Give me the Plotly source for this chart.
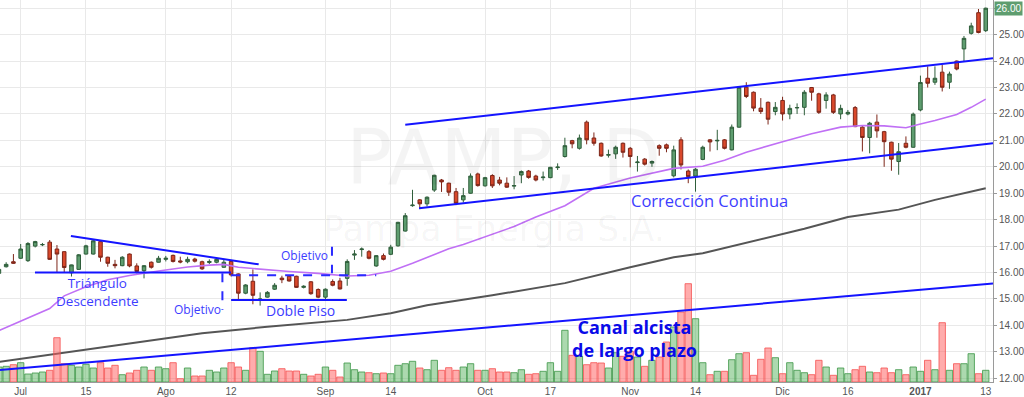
import pandas as pd
import plotly.graph_objects as go

# ---------------- data ----------------
holidays = ["2016-07-08", "2016-08-15", "2016-10-10", "2016-11-28",
            "2016-12-08", "2016-12-09", "2016-12-30"]
dates = [d.strftime("%Y-%m-%d") for d in
         pd.bdate_range("2016-06-28", "2017-01-13", freq="C", holidays=holidays)]

open_ = [15.97, 16.22, 16.41, 16.54, 16.45, 17.00, 17.05, 17.15, 16.89, 16.79,
         15.99, 16.12, 16.70, 16.70, 17.17, 16.58, 16.31, 16.26, 16.70, 16.25,
         16.07, 16.39, 16.39, 16.50, 16.65, 16.44, 16.41, 16.51, 16.41, 16.38,
         16.39, 16.20, 16.42, 15.95, 15.22, 15.67, 14.97, 15.07, 15.37, 15.79,
         15.86, 15.86, 15.44, 15.65, 15.36, 15.07, 15.66, 15.68, 15.78, 16.66,
         16.87, 16.79, 16.25, 16.64, 16.69, 17.01, 17.57, 18.53, 18.75, 18.60,
         19.12, 19.50, 19.38, 19.06, 18.75, 19.00, 19.73, 19.28, 19.67, 19.50,
         19.38, 19.27, 19.69, 19.84, 19.65, 19.59, 19.59, 19.97, 20.39, 20.99,
         20.70, 21.69, 21.09, 20.89, 20.44, 20.49, 20.89, 20.70, 20.16, 20.29,
         20.14, 20.80, 20.83, 19.66, 21.02, 19.84, 19.65, 20.28, 21.02, 20.98,
         21.02, 20.64, 21.50, 23.01, 22.82, 22.22, 22.44, 22.09, 22.51, 22.00,
         22.23, 22.25, 23.00, 22.76, 22.51, 22.72, 22.00, 22.00, 22.24, 21.50,
         21.11, 21.69, 21.33, 20.93, 20.20, 20.89, 20.74, 22.15, 23.35, 23.20,
         23.58, 23.20, 24.00, 24.46, 25.05, 25.83, 25.15]
high = [16.15, 16.39, 16.70, 17.08, 17.15, 17.20, 17.12, 17.23, 17.04, 16.80,
        16.30, 16.70, 17.05, 17.24, 17.19, 16.60, 16.48, 16.62, 16.72, 16.35,
        16.28, 16.42, 16.63, 16.63, 16.68, 16.60, 16.60, 16.56, 16.45, 16.50,
        16.56, 16.50, 16.46, 15.97, 15.56, 16.12, 15.25, 15.30, 15.60, 15.88,
        15.90, 15.88, 15.52, 15.68, 15.40, 15.40, 15.74, 15.80, 16.50, 16.85,
        16.95, 16.85, 16.66, 16.72, 17.05, 17.92, 18.25, 19.13, 18.78, 18.88,
        19.70, 19.54, 19.40, 19.20, 19.20, 19.75, 19.78, 19.62, 19.72, 19.62,
        19.60, 19.65, 19.86, 19.88, 19.70, 19.82, 20.00, 20.13, 21.10, 21.02,
        21.22, 21.75, 21.30, 20.92, 20.65, 20.80, 20.92, 20.75, 20.41, 20.33,
        20.24, 20.85, 20.88, 20.80, 21.12, 19.90, 19.95, 20.80, 21.05, 21.40,
        21.05, 21.60, 23.03, 23.20, 22.85, 22.60, 22.47, 22.45, 22.65, 22.35,
        22.40, 22.90, 23.02, 22.80, 22.82, 22.76, 22.35, 22.15, 22.30, 21.55,
        21.70, 21.98, 21.36, 20.95, 20.90, 21.15, 22.05, 23.45, 23.80, 23.80,
        23.85, 23.60, 24.02, 24.95, 25.45, 25.97, 26.02]
low = [15.93, 16.19, 16.33, 16.52, 16.40, 16.95, 17.00, 16.48, 16.00, 16.00,
       15.85, 16.10, 16.68, 16.68, 16.41, 16.22, 16.16, 16.24, 16.20, 15.97,
       15.78, 16.15, 16.38, 16.42, 16.38, 16.35, 16.35, 16.38, 16.10, 16.32,
       16.35, 16.18, 15.85, 15.00, 15.18, 14.80, 14.75, 15.05, 15.34, 15.60,
       15.66, 15.42, 15.40, 15.16, 15.03, 14.97, 15.48, 15.36, 15.50, 16.48,
       16.60, 16.50, 16.22, 16.46, 16.66, 16.98, 17.55, 18.49, 18.40, 18.50,
       19.05, 19.05, 18.90, 18.55, 18.65, 18.98, 19.25, 19.25, 19.20, 19.30,
       19.20, 19.15, 19.38, 19.55, 19.45, 19.48, 19.57, 19.88, 20.35, 20.70,
       20.65, 20.85, 20.80, 20.38, 20.35, 20.30, 20.35, 19.98, 19.82, 20.05,
       20.00, 20.42, 20.55, 19.60, 19.90, 19.38, 19.06, 20.25, 20.58, 20.63,
       20.66, 20.62, 21.48, 22.60, 22.10, 22.00, 21.60, 21.95, 21.75, 21.80,
       22.00, 21.95, 22.50, 22.00, 22.20, 22.00, 21.80, 21.95, 21.50, 20.58,
       20.51, 21.10, 20.00, 19.85, 19.70, 20.70, 20.72, 22.10, 23.00, 23.10,
       22.85, 22.95, 23.65, 24.00, 25.00, 25.05, 25.10]
close = [16.12, 16.31, 16.35, 16.89, 17.10, 17.17, 17.06, 16.50, 16.70, 16.19,
         16.29, 16.67, 17.01, 17.20, 16.58, 16.35, 16.26, 16.58, 16.25, 16.04,
         16.26, 16.20, 16.54, 16.54, 16.42, 16.40, 16.50, 16.43, 16.14, 16.42,
         16.50, 16.39, 15.91, 15.22, 15.53, 15.14, 15.00, 15.25, 15.52, 15.73,
         15.68, 15.44, 15.48, 15.20, 15.07, 15.37, 15.52, 15.38, 16.42, 16.70,
         16.89, 16.54, 16.64, 16.50, 16.96, 17.90, 18.15, 18.55, 18.60, 18.85,
         19.68, 19.43, 19.04, 18.62, 18.91, 19.65, 19.29, 19.59, 19.28, 19.38,
         19.23, 19.29, 19.82, 19.60, 19.50, 19.61, 19.98, 19.99, 20.80, 20.87,
         21.09, 21.02, 20.89, 20.41, 20.46, 20.74, 20.55, 20.39, 20.18, 20.10,
         20.20, 20.70, 20.70, 20.64, 20.07, 19.63, 19.91, 20.74, 20.94, 21.00,
         20.70, 21.50, 23.01, 22.66, 22.22, 22.09, 21.80, 22.25, 22.00, 22.21,
         22.24, 22.82, 22.82, 22.06, 22.72, 22.06, 22.21, 22.06, 21.52, 21.11,
         21.65, 21.36, 20.95, 20.29, 20.57, 20.74, 21.99, 23.19, 23.16, 23.35,
         23.01, 23.51, 23.70, 24.86, 25.33, 25.08, 26.00]
# volume, thousands of shares
volume = [300, 314, 346, 386, 160, 180, 200, 234, 886, 366,
          334, 300, 354, 280, 386, 280, 334, 146, 180, 234,
          300, 234, 300, 266, 386, 66, 280, 120, 120, 234,
          200, 280, 386, 300, 234, 686, 614, 154, 220, 266,
          220, 220, 154, 120, 154, 300, 234, 100, 380, 246,
          200, 186, 166, 180, 166, 334, 366, 414, 280, 246,
          434, 234, 286, 234, 300, 366, 234, 234, 266, 200,
          200, 186, 246, 154, 166, 214, 386, 214, 1034, 534,
          514, 346, 386, 380, 280, 586, 514, 614, 500, 314,
          434, 500, 800, 1100, 1400, 1966, 1266, 386, 146, 214,
          214, 446, 566, 586, 134, 454, 680, 486, 166, 386,
          234, 186, 146, 434, 300, 134, 280, 166, 246, 314,
          200, 186, 280, 186, 246, 146, 300, 214, 434, 246,
          1186, 234, 366, 366, 566, 166, 234]

# moving averages (sampled at bar positions)
ma_fast_pos = [0, 7, 9, 12, 15, 18, 22, 26, 29, 31, 33, 37, 40, 44, 48, 51, 54,
               57, 59, 62, 64, 66, 68, 71, 74, 78, 82, 87, 93, 97, 100, 103,
               108, 112, 116, 119, 122, 125, 127, 129, 132, 134, 136]
ma_fast = [13.80, 14.64, 15.12, 15.46, 15.73, 15.89, 16.06, 16.21, 16.28, 16.31,
           16.20, 16.10, 16.04, 15.97, 15.87, 15.90, 16.05, 16.35, 16.58, 16.90,
           17.06, 17.25, 17.45, 17.74, 18.10, 18.53, 19.19, 19.58, 19.94, 20.02,
           20.25, 20.55, 20.95, 21.25, 21.50, 21.56, 21.55, 21.48, 21.62, 21.75,
           21.98, 22.25, 22.56]
ma_slow_pos = [0, 9, 18, 28, 37, 48, 54, 59, 68, 78, 87, 93, 97, 101, 106, 111,
               117, 124, 129, 132, 136]
ma_slow = [12.62, 12.97, 13.32, 13.70, 13.95, 14.21, 14.46, 14.76, 15.14, 15.60,
           16.20, 16.58, 16.73, 17.00, 17.33, 17.66, 18.10, 18.38, 18.75, 18.94,
           19.19]

# drawn trend lines: (bar position, price)
tri_top_x, tri_top_y = [9.92, 35.8], [17.38, 16.31]
tri_base_x, tri_base_y = [4.97, 32.0], [16.0, 16.0]
floor_x, floor_y = [32.0, 47.95], [14.96, 14.96]
chan_up_x, chan_up_y = [56.0, 137.0], [21.59, 24.11]
chan_dn_x, chan_dn_y = [57.9, 137.0], [18.43, 20.89]
long_x, long_y = [0.15, 137.0], [12.31, 15.59]
obj1_x, obj1_y = [30.8, 30.8], [15.97, 14.58]
obj2_x, obj2_y = [45.9, 45.9], [16.98, 15.97]
neck_x, neck_y = [32.0, 52.0], [15.90, 15.90]

tick_dates = ["2016-07-01", "2016-07-15", "2016-08-01", "2016-08-12", "2016-09-01",
              "2016-09-14", "2016-10-03", "2016-10-17", "2016-11-01", "2016-11-14",
              "2016-12-01", "2016-12-16", "2017-01-02", "2017-01-13"]
tick_labels = ["Jul", "15", "Ago", "12", "Sep", "14", "Oct", "17", "Nov", "14",
               "Dic", "16", "<b>2017</b>", "13"]
price_ticks = [12, 13, 14, 15, 16, 17, 18, 19, 20, 21, 22, 23, 24, 25, 26]

last_price = 26.00

# ---------------- figure ----------------
GREEN_F, GREEN_L = "#5e9d6f", "#2f5e3b"
RED_F, RED_L = "#d9482b", "#7d2619"
up = [c >= o for o, c in zip(open_, close)]
vol_fill = ["rgba(90,180,95,0.5)" if u else "rgba(255,90,90,0.5)" for u in up]
vol_line = ["rgba(60,150,70,0.8)" if u else "rgba(245,80,80,0.8)" for u in up]

fig = go.Figure()
fig.add_trace(go.Bar(x=dates, y=volume, yaxis="y2",
                     marker=dict(color=vol_fill, line=dict(color=vol_line, width=1)),
                     hoverinfo="skip", showlegend=False))
fig.add_trace(go.Scatter(x=[dates[k] for k in ma_slow_pos], y=ma_slow, mode="lines",
                         line=dict(color="#555555", width=2), showlegend=False))
fig.add_trace(go.Scatter(x=[dates[k] for k in ma_fast_pos], y=ma_fast, mode="lines",
                         line=dict(color="#c070f5", width=1.6), showlegend=False))
fig.add_trace(go.Candlestick(
    x=dates, open=open_, high=high, low=low, close=close,
    increasing=dict(fillcolor=GREEN_F, line=dict(color=GREEN_L, width=1)),
    decreasing=dict(fillcolor=RED_F, line=dict(color=RED_L, width=1)),
    whiskerwidth=0, showlegend=False))

shapes = []
for xs, ys in [(tri_top_x, tri_top_y), (tri_base_x, tri_base_y), (floor_x, floor_y),
               (chan_up_x, chan_up_y), (chan_dn_x, chan_dn_y), (long_x, long_y)]:
    shapes.append(dict(type="line", xref="x", yref="y", x0=xs[0], x1=xs[1],
                       y0=ys[0], y1=ys[1], line=dict(color="#1414ff", width=2)))
for xs, ys in [(obj1_x, obj1_y), (obj2_x, obj2_y), (neck_x, neck_y)]:
    shapes.append(dict(type="line", xref="x", yref="y", x0=xs[0], x1=xs[1],
                       y0=ys[0], y1=ys[1],
                       line=dict(color="#2a2aff", width=2, dash="dash")))

TXT = "#3d3dff"
ann = [
    dict(x=69.5, y=20.34, text="PAMP, D", font=dict(size=77, color="rgba(0,0,0,0.045)",
         family="DejaVu Sans")),
    dict(x=68.2, y=17.65, text="Pampa Energia S.A.",
         font=dict(size=35, color="rgba(0,0,0,0.045)", family="DejaVu Sans")),
    dict(x=13.6, y=15.27, text="Triángulo<br>Descendente",
         font=dict(size=13.5, color=TXT, family="Open Sans")),
    dict(x=27.3, y=14.59, text="Objetivo", font=dict(size=12, color=TXT, family="Open Sans")),
    dict(x=41.6, y=14.55, text="Doble Piso", font=dict(size=14, color=TXT, family="Open Sans")),
    dict(x=42.1, y=16.63, text="Objetivo", font=dict(size=12, color=TXT, family="Open Sans")),
    dict(x=97.9, y=18.71, text="Corrección Continua",
         font=dict(size=16.5, color=TXT, family="Open Sans")),
    dict(x=87.6, y=13.49, text="<b>Canal alcista<br>de largo plazo</b>",
         font=dict(size=18, color="#0a0ae8", family="Open Sans")),
]
annotations = [dict(a, xref="x", yref="y", showarrow=False) for a in ann]
annotations.append(dict(xref="paper", yref="y", x=1, y=last_price, xanchor="left",
                        xshift=1, text=f"{last_price:.2f}", showarrow=False,
                        bgcolor=GREEN_F,
                        font=dict(size=10, color="white", family="Liberation Sans"),
                        borderpad=1))

fig.update_layout(
    width=1024, height=397,
    margin=dict(l=0, r=29, t=0, b=15),
    paper_bgcolor="white", plot_bgcolor="white",
    showlegend=False, bargap=0.12,
    shapes=shapes, annotations=annotations,
    font=dict(family="Liberation Sans", size=10, color="#555555"),
    xaxis=dict(type="category", range=[0.15, 137.0], rangeslider=dict(visible=False),
               tickmode="array", tickvals=tick_dates, ticktext=tick_labels,
               showgrid=True, gridcolor="#e9e9e9", gridwidth=1,
               showline=True, linecolor="#9a9a9a", ticks="", tickfont=dict(size=10)),
    yaxis=dict(side="right", range=[11.86, 26.31], tickmode="array",
               tickvals=price_ticks,
               ticktext=["" if v == last_price else f"{v:.2f}" for v in price_ticks],
               showgrid=True, gridcolor="#e9e9e9", gridwidth=1,
               showline=True, linecolor="#9a9a9a", ticks="outside", ticklen=3,
               tickcolor="#9a9a9a", zeroline=False, tickfont=dict(size=10)),
    yaxis2=dict(overlaying="y", range=[0, 7640], visible=False),
    hovermode=False,
)

fig.write_html("out.html",
               config={"displayModeBar": False, "staticPlot": True},
               post_script="document.body.style.margin='0px';"
                           "document.body.style.overflow='hidden';")
